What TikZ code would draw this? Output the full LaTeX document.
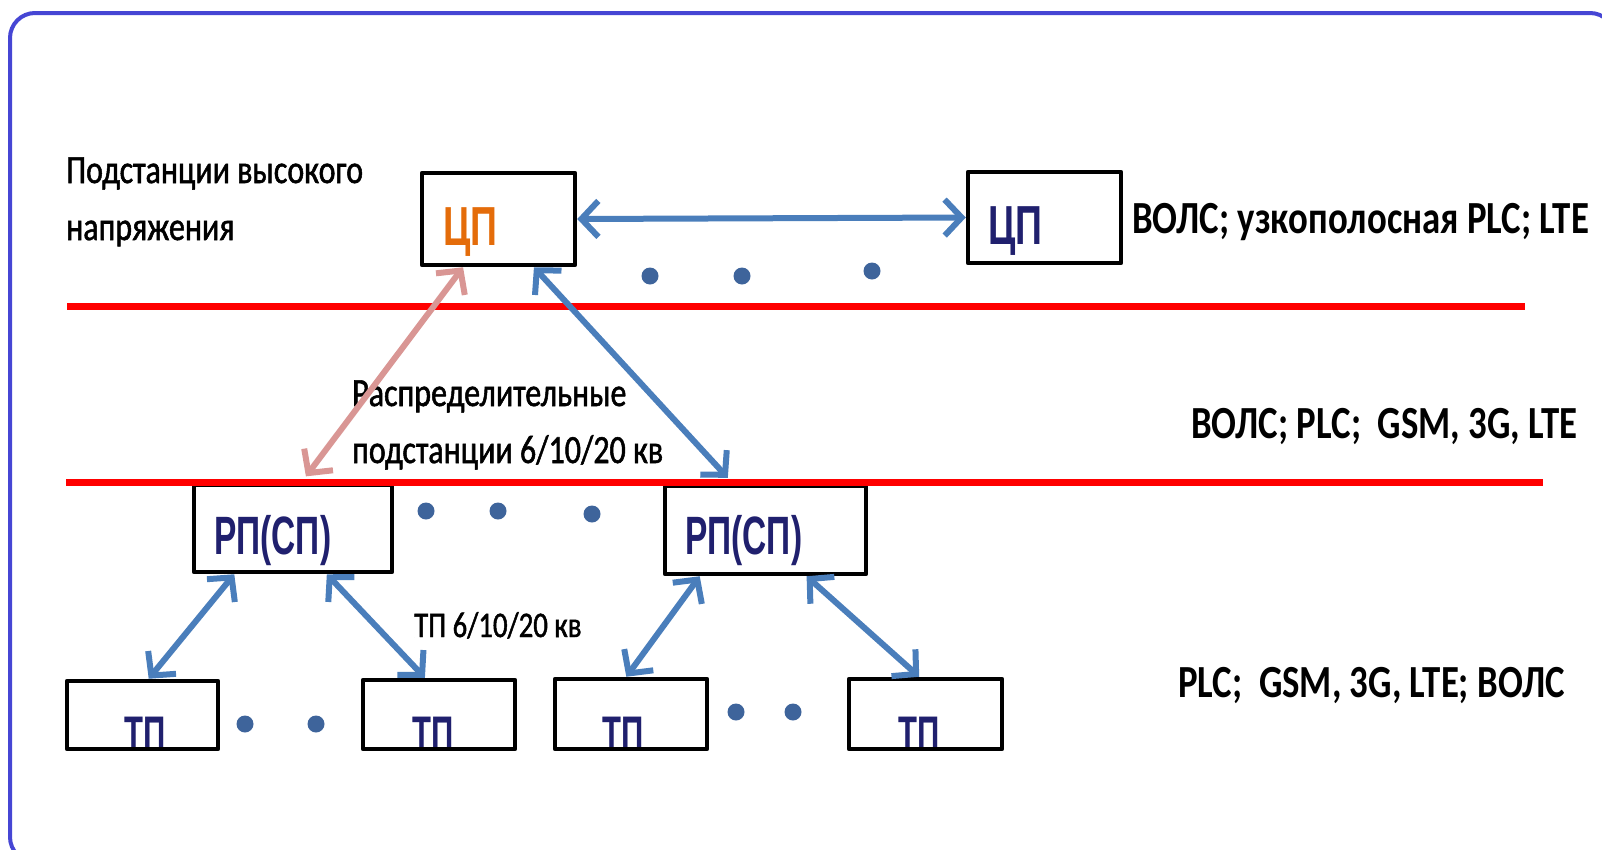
\documentclass[tikz,border=0pt]{standalone}
\usepackage{fontspec}
\usetikzlibrary{arrows.meta,calc}
\newfontfamily\calr{Carlito}[FakeStretch=0.8,FakeBold=1.3]
\newfontfamily\calb{Carlito}[FakeStretch=0.8]
\newfontfamily\arl{Liberation Sans}[FakeStretch=0.62]
\newfontfamily\arlw{Liberation Sans}[FakeStretch=0.68]
\definecolor{framecol}{RGB}{70,70,212}
\definecolor{linkblue}{RGB}{74,126,187}
\definecolor{linkpink}{RGB}{217,150,148}
\definecolor{dotcol}{RGB}{62,100,155}
\definecolor{navy}{RGB}{32,32,110}
\definecolor{orng}{RGB}{228,108,10}
\definecolor{redline}{RGB}{255,0,0}
\begin{document}
\begin{tikzpicture}[x=1pt,y=-1pt,
  box/.style={draw=black, line width=4.5pt, inner sep=0pt, rectangle, line join=round},
  lbl/.style={inner sep=0pt, anchor=base west, text=black},
  thin/.style={font=\calr\fontsize{40}{48}\selectfont},
  small/.style={font=\calr\fontsize{36}{44}\selectfont},
  heavy/.style={font=\calb\bfseries\fontsize{46}{52}\selectfont},
  boxtxt/.style={inner sep=0pt, anchor=base west, font=\arl\bfseries\fontsize{54}{60}\selectfont, text=navy},
  cptxt/.style={inner sep=0pt, anchor=base west, font=\arlw\bfseries\fontsize{55}{60}\selectfont, text=navy},
  tptxt/.style={inner sep=0pt, anchor=base west, font=\arl\bfseries\fontsize{50}{56}\selectfont, text=navy},
  lnk/.style={draw=linkblue, line width=6pt, line cap=round, line join=round,
    {Straight Barb[length=17pt,width=36pt]}-{Straight Barb[length=17pt,width=36pt]}},
  pinklnk/.style={lnk, draw=linkpink},
  level/.style={draw=redline, line width=7pt},
  dot/.style={fill=dotcol}
]
\useasboundingbox (0,0) rectangle (1602,849);
\draw[framecol, line width=4pt, rounded corners=25pt] (10,13) rectangle (1615,862);

% texts
\node[lbl, thin] (hv1) at (66,183) {Подстанции высокого};
\node[lbl, thin] (hv2) at (66,240) {напряжения};
\node[lbl, thin] (rs1) at (352,406) {Распределительные};
\node[lbl, thin] (rs2) at (352,463) {подстанции 6/10/20 кв};
\node[lbl, small] (tpl) at (414,637) {ТП 6/10/20 кв};
\node[lbl, heavy] (m1) at (1132,233) {ВОЛС; узкополосная PLC; LTE};
\node[lbl, heavy] (m2) at (1191,438) {ВОЛС; PLC;\ \ GSM, 3G, LTE};
\node[lbl, heavy] (m3) at (1178,697) {PLC;\ \ GSM, 3G, LTE; ВОЛС};

\node[cptxt, text=orng] (t-cp1) at (443,245) {ЦП};
\node[cptxt] (t-cp2) at (988,244) {ЦП};
\node[boxtxt] (t-rp1) at (214,554) {РП(СП)};
\node[boxtxt] (t-rp2) at (685,554) {РП(СП)};
\node[tptxt] (t-tp1) at (124,751) {ТП};
\node[tptxt] (t-tp2) at (412,751) {ТП};
\node[tptxt] (t-tp3) at (602,751) {ТП};
\node[tptxt] (t-tp4) at (898,751) {ТП};

% boxes
\node[box, minimum width=153pt, minimum height=92pt] (cp1) at (498.5,219) {};
\node[box, minimum width=153pt, minimum height=91pt] (cp2) at (1044.5,217.5) {};
\node[box, minimum width=198pt, minimum height=87pt] (rp1) at (293,528.5) {};
\node[box, minimum width=201pt, minimum height=88pt] (rp2) at (765.5,530) {};
\node[box, minimum width=151pt, minimum height=68pt] (tp1) at (142.5,715) {};
\node[box, minimum width=152pt, minimum height=69pt] (tp2) at (439,714.5) {};
\node[box, minimum width=152pt, minimum height=70pt] (tp3) at (631,714) {};
\node[box, minimum width=153pt, minimum height=70pt] (tp4) at (925.5,714) {};

% level lines
\draw[level] (67,306) -- (1525,306);
\draw[level] (66,482) -- (1543,482);

% dots
\fill[dot] (650,276) circle (8.5);
\fill[dot] (742,276) circle (8.5);
\fill[dot] (872,271) circle (8.5);
\fill[dot] (426,511) circle (8.5);
\fill[dot] (498,511) circle (8.5);
\fill[dot] (592,514) circle (8.5);
\fill[dot] (245,724) circle (8.5);
\fill[dot] (316,724) circle (8.5);
\fill[dot] (736,712) circle (8.5);
\fill[dot] (793,712) circle (8.5);

% links
\draw[lnk] (cp1.east) -- (cp2.west);
\draw[pinklnk, shorten >=8pt] ($(cp1.south west)!0.275!(cp1.south east)$) -- ($(rp1.north west)!0.54!(rp1.north east)$);
\draw[lnk, shorten >=8pt] ($(cp1.south west)!0.725!(cp1.south east)$) -- ($(rp2.north west)!0.343!(rp2.north east)$);
\draw[lnk] ($(rp1.south west)!0.21!(rp1.south east)$) -- ($(tp1.north west)!0.54!(tp1.north east)$);
\draw[lnk] ($(rp1.south west)!0.667!(rp1.south east)$) -- ($(tp2.north west)!0.41!(tp2.north east)$);
\draw[lnk] ($(rp2.south west)!0.18!(rp2.south east)$) -- ($(tp3.north west)!0.47!(tp3.north east)$);
\draw[lnk] ($(rp2.south west)!0.70!(rp2.south east)$) -- ($(tp4.north west)!0.46!(tp4.north east)$);
\end{tikzpicture}
\end{document}
